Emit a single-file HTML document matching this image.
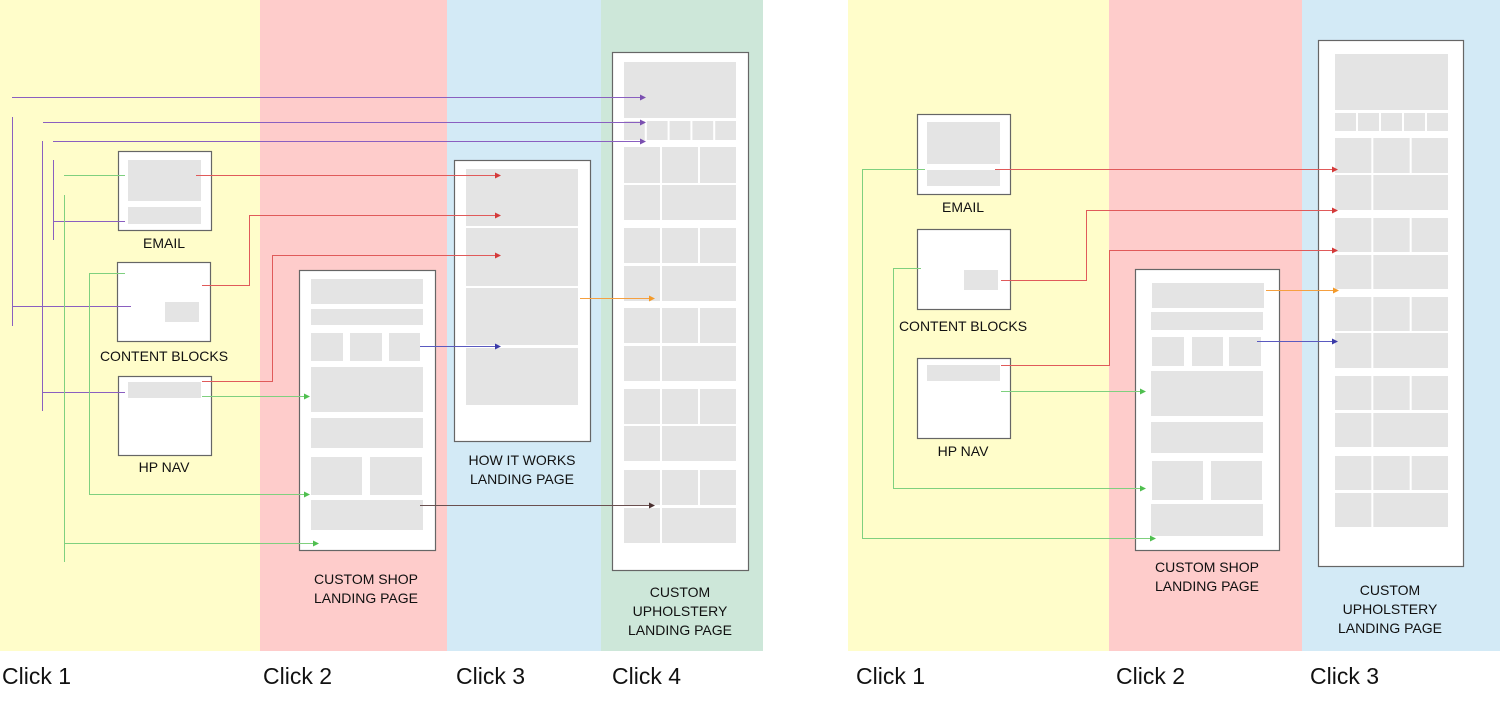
<!DOCTYPE html>
<html><head><meta charset="utf-8"><style>
html,body{margin:0;padding:0;background:#fff;}
svg{display:block;}
text{font-family:"Liberation Sans",sans-serif;fill:#111;}
.lb{font-size:14px;text-anchor:middle;}
.ck{font-size:23px;}
</style></head><body>
<svg id="s" width="1500" height="720" viewBox="0 0 1500 720" xmlns="http://www.w3.org/2000/svg">
<defs>
<marker id="ap" markerWidth="6" markerHeight="6" refX="5" refY="3" orient="auto" markerUnits="userSpaceOnUse"><path d="M0,0 L6,3 L0,6z" fill="#7a4fb0"/></marker>
<marker id="ar" markerWidth="6" markerHeight="6" refX="5" refY="3" orient="auto" markerUnits="userSpaceOnUse"><path d="M0,0 L6,3 L0,6z" fill="#d43a3a"/></marker>
<marker id="ag" markerWidth="6" markerHeight="6" refX="5" refY="3" orient="auto" markerUnits="userSpaceOnUse"><path d="M0,0 L6,3 L0,6z" fill="#4fbf4f"/></marker>
<marker id="ao" markerWidth="6" markerHeight="6" refX="5" refY="3" orient="auto" markerUnits="userSpaceOnUse"><path d="M0,0 L6,3 L0,6z" fill="#f39a2a"/></marker>
<marker id="ab" markerWidth="6" markerHeight="6" refX="5" refY="3" orient="auto" markerUnits="userSpaceOnUse"><path d="M0,0 L6,3 L0,6z" fill="#3a3aa8"/></marker>
<marker id="ak" markerWidth="6" markerHeight="6" refX="5" refY="3" orient="auto" markerUnits="userSpaceOnUse"><path d="M0,0 L6,3 L0,6z" fill="#4a3030"/></marker>
</defs>
<!-- backgrounds -->
<rect x="0" y="0" width="260" height="651" fill="#fffdca"/>
<rect x="260" y="0" width="187" height="651" fill="#fecccb"/>
<rect x="447" y="0" width="154" height="651" fill="#d3eaf6"/>
<rect x="601" y="0" width="162" height="651" fill="#cde7d9"/>
<rect x="848" y="0" width="261" height="651" fill="#fffdca"/>
<rect x="1109" y="0" width="193" height="651" fill="#fecccb"/>
<rect x="1302" y="0" width="198" height="651" fill="#d3eaf6"/>
<g id="boxes"></g>
<g id="lines" fill="none" stroke-width="1"></g>
<text class="lb" x="164" y="248">EMAIL</text>
<text class="lb" x="164" y="361">CONTENT BLOCKS</text>
<text class="lb" x="164" y="472">HP NAV</text>
<text class="lb" x="366" y="584">CUSTOM SHOP</text>
<text class="lb" x="366" y="603">LANDING PAGE</text>
<text class="lb" x="522" y="465">HOW IT WORKS</text>
<text class="lb" x="522" y="484">LANDING PAGE</text>
<text class="lb" x="680" y="597">CUSTOM</text>
<text class="lb" x="680" y="616">UPHOLSTERY</text>
<text class="lb" x="680" y="635">LANDING PAGE</text>
<text class="lb" x="963" y="212">EMAIL</text>
<text class="lb" x="963" y="331">CONTENT BLOCKS</text>
<text class="lb" x="963" y="456">HP NAV</text>
<text class="lb" x="1207" y="572">CUSTOM SHOP</text>
<text class="lb" x="1207" y="591">LANDING PAGE</text>
<text class="lb" x="1390" y="595">CUSTOM</text>
<text class="lb" x="1390" y="614">UPHOLSTERY</text>
<text class="lb" x="1390" y="633">LANDING PAGE</text>
<text class="ck" x="2" y="684">Click 1</text>
<text class="ck" x="263" y="684">Click 2</text>
<text class="ck" x="456" y="684">Click 3</text>
<text class="ck" x="612" y="684">Click 4</text>
<text class="ck" x="856" y="684">Click 1</text>
<text class="ck" x="1116" y="684">Click 2</text>
<text class="ck" x="1310" y="684">Click 3</text>
</svg>
<script>
var NS="http://www.w3.org/2000/svg",B=document.getElementById("boxes"),L=document.getElementById("lines");
function frame(x1,y1,x2,y2){var r=document.createElementNS(NS,"rect");r.setAttribute("x",x1+.5);r.setAttribute("y",y1+.5);r.setAttribute("width",x2-x1);r.setAttribute("height",y2-y1);r.setAttribute("fill","#fff");r.setAttribute("stroke","#666");r.setAttribute("stroke-width","1.2");B.appendChild(r);}
function g(x1,y1,x2,y2){var r=document.createElementNS(NS,"rect");r.setAttribute("x",x1);r.setAttribute("y",y1);r.setAttribute("width",x2-x1);r.setAttribute("height",y2-y1);r.setAttribute("fill","#e4e4e4");B.appendChild(r);}
var C={p:"#8a5fc0",r:"#e05a5a",g:"#7fd07f",o:"#f5a040",b:"#5a5ac0",k:"#6a5050"};
var M={p:"ap",r:"ar",g:"ag",o:"ao",b:"ab",k:"ak"};
function ln(c,pts,arrow){var p=document.createElementNS(NS,"polyline");p.setAttribute("points",pts);p.setAttribute("stroke",C[c]);if(arrow)p.setAttribute("marker-end","url(#"+M[c]+")");L.appendChild(p);}
// LEFT
frame(118,151,211,230);g(128,160,201,201);g(128,207,201,224);
frame(117,262,210,341);g(165,302,199,322);
frame(118,376,211,455);g(128,382,201,398);
frame(299,270,435,550);
g(311,279,423,304);g(311,309,423,325);g(311,333,343,361);g(350,333,382,361);g(389,333,420,361);
g(311,367,423,412);g(311,418,423,448);g(311,457,362,495);g(370,457,422,495);g(311,500,423,530);
frame(454,160,590,441);g(466,169,578,226);g(466,228,578,286);g(466,288,578,345);g(466,348,578,405);
function uph(X1,X2,Y1,Y2,top,sm,groups){frame(X1,Y1,X2,Y2);var a=top[0],b=top[1];g(a,top[2],b,top[3]);
 var w=(b-a+2)/5;for(var i=0;i<5;i++)g(a+i*w,sm[0],a+(i+1)*w-2,sm[1]);
 var cw=(b-a-4)/3;groups.forEach(function(G){g(a,G[0],a+cw,G[1]);g(a+cw+2,G[0],a+2*cw+2,G[1]);g(a+2*cw+4,G[0],b,G[1]);g(a,G[2],a+cw,G[3]);g(a+cw+2,G[2],b,G[3]);});}
uph(612,748,52,570,[624,736,62,118],[121,140],[[147,183,185,220],[228,263,266,301],[308,343,346,381],[389,424,426,461],[470,505,508,543]]);
// RIGHT
frame(917,114,1010,194);g(927,122,1000,164);g(927,170,1000,186);
frame(917,229,1010,309);g(964,270,998,290);
frame(917,358,1010,438);g(927,365,1000,381);
frame(1135,269,1279,550);
g(1152,283,1264,308);g(1151,312,1263,330);g(1152,337,1184,366);g(1192,337,1223,366);g(1229,337,1261,366);
g(1151,371,1263,416);g(1151,422,1263,453);g(1152,461,1203,500);g(1211,461,1262,500);g(1151,504,1263,536);
uph(1318,1463,40,566,[1335,1448,54,110],[113,131],[[138,173,175,210],[218,252,255,289],[297,331,333,368],[376,410,413,447],[456,490,493,527]]);
// left connectors
ln("p","12,97.5 645,97.5",1);ln("p","12.5,117 12.5,326");ln("p","12,306.5 131,306.5");
ln("p","43,122.5 645,122.5",1);ln("p","42.5,141 42.5,411");ln("p","42,392.5 125,392.5");
ln("p","53,141.5 645,141.5",1);ln("p","53.5,160 53.5,240");ln("p","53,221.5 125,221.5");
ln("g","64,175.5 125,175.5");ln("g","64.5,195 64.5,562");ln("g","64,543.5 318,543.5",1);
ln("g","125,273.5 89.5,273.5 89.5,494.5 309,494.5",1);
ln("g","202,396.5 309,396.5",1);
ln("r","196,175.5 500,175.5",1);
ln("r","202,285.5 249.5,285.5 249.5,215.5 500,215.5",1);
ln("r","202,381.5 272.5,381.5 272.5,255.5 500,255.5",1);
ln("o","580,298.5 654,298.5",1);
ln("b","420,346.5 500,346.5",1);
ln("k","420,505.5 654,505.5",1);
// right connectors
ln("g","925,169.5 862.5,169.5 862.5,538.5 1155,538.5",1);
ln("g","921,268.5 893.5,268.5 893.5,488.5 1145,488.5",1);
ln("g","1001,391.5 1145,391.5",1);
ln("r","995,169.5 1337,169.5",1);
ln("r","1001,280.5 1086.5,280.5 1086.5,210.5 1337,210.5",1);
ln("r","1001,365.5 1109.5,365.5 1109.5,250.5 1337,250.5",1);
ln("o","1266,290.5 1338,290.5",1);
ln("b","1257,341.5 1337,341.5",1);
</script>
</body></html>
